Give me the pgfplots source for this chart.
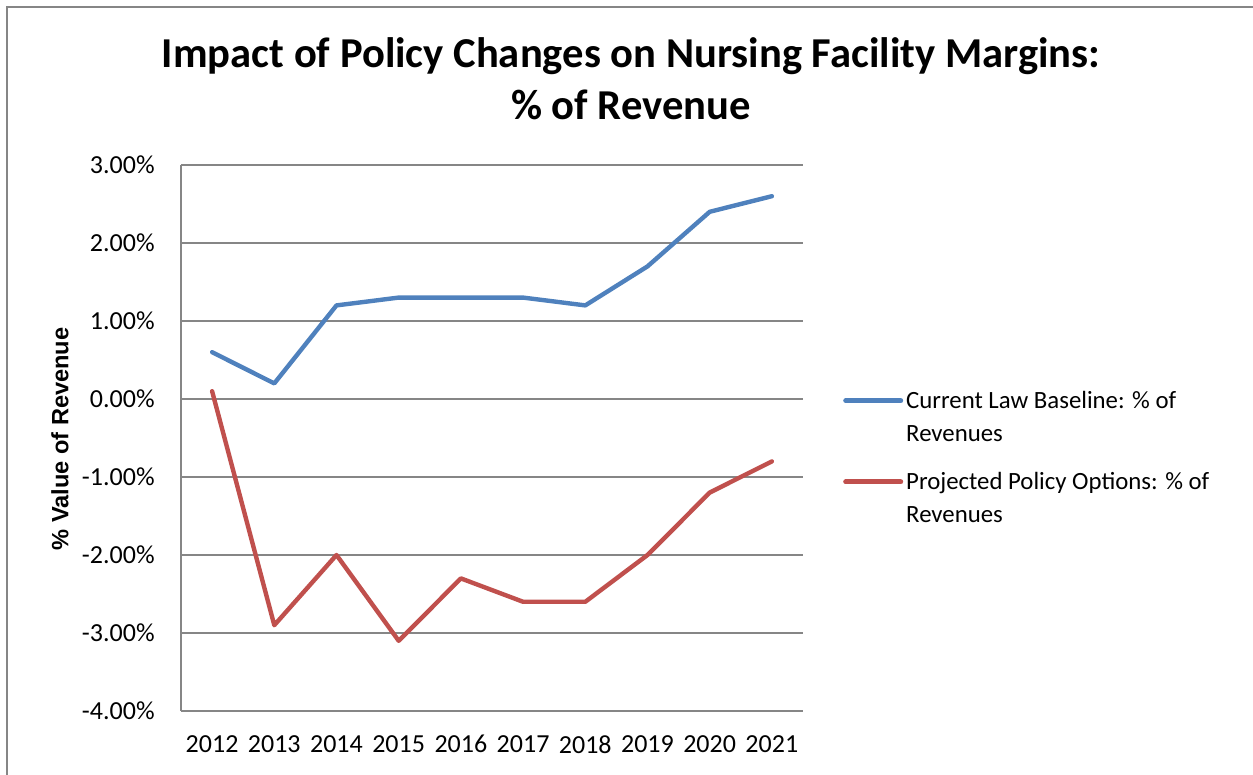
\documentclass[border=0pt]{standalone}
\usepackage{fontspec}
\setmainfont{Carlito}
\newfontfamily\arialfont{Liberation Sans}
\usepackage{pgfplots}
\pgfplotsset{compat=1.18}
\definecolor{exblue}{HTML}{4F81BD}
\definecolor{exred}{HTML}{C0504D}
\definecolor{exgrid}{HTML}{868686}
\begin{document}
\begin{tikzpicture}[x=0.5pt,y=0.5pt]
\useasboundingbox (0,0) rectangle (1253,775);
\draw[exgrid, line width=1pt] (7,0) -- (7,768) -- (1253,768);
\node[anchor=base, inner sep=0pt, font=\fontsize{21.3}{25}\selectfont\bfseries] at (631,707) {Impact of Policy Changes on Nursing Facility Margins:};
\node[anchor=base, inner sep=0pt, font=\fontsize{21.3}{25}\selectfont\bfseries] at (631,655) {\% of Revenue};
\node[rotate=90, inner sep=0pt, font=\arialfont\bfseries\fontsize{11.8}{14}\selectfont] at (60,336) {\% Value of Revenue};
\begin{axis}[
  at={(90.5pt,32pt)}, anchor=south west,
  scale only axis, width=311pt, height=273pt,
  xmin=2011.5, xmax=2021.5, ymin=-4, ymax=3,
  axis x line*=bottom, axis y line*=left,
  axis line style={exgrid, line width=1pt, -},
  ymajorgrids, grid style={exgrid, line width=1pt},
  xtick={2012,...,2021},
  xticklabels={2012,2013,2014,2015,2016,2017,2018,2019,2020,2021},
  ytick={-4,-3,...,3},
  yticklabels={-4.00\%,-3.00\%,-2.00\%,-1.00\%,0.00\%,1.00\%,2.00\%,3.00\%},
  tick style={draw=none},
  tick label style={font=\fontsize{13}{15}\selectfont, inner sep=0pt},
  yticklabel style={xshift=-13pt},
  xticklabel style={yshift=-12pt},
  legend cell align=left,
  legend style={at={(1.064,0.5865)}, anchor=north west, draw=none, fill=none,
    inner sep=0pt, row sep=14pt, column sep=1.5pt,
    nodes={inner sep=0pt, align=left, font=\fontsize{12.4}{16.5}\selectfont}},
  legend image code/.code={\draw[#1, line width=2.5pt] (0pt,8.5pt) -- (27.5pt,8.5pt);},
]
\addplot[exblue, line width=2.2pt, line join=round, line cap=round] coordinates {
(2012,0.6) (2013,0.2) (2014,1.2) (2015,1.3) (2016,1.3) (2017,1.3) (2018,1.2) (2019,1.7) (2020,2.4) (2021,2.6)};
\addlegendentry{Current Law Baseline: \% of\\Revenues}
\addplot[exred, line width=2.2pt, line join=round, line cap=round] coordinates {
(2012,0.1) (2013,-2.9) (2014,-2.0) (2015,-3.1) (2016,-2.3) (2017,-2.6) (2018,-2.6) (2019,-2.0) (2020,-1.2) (2021,-0.8)};
\addlegendentry{Projected Policy Options: \% of\\Revenues}
\end{axis}
\end{tikzpicture}
\end{document}
